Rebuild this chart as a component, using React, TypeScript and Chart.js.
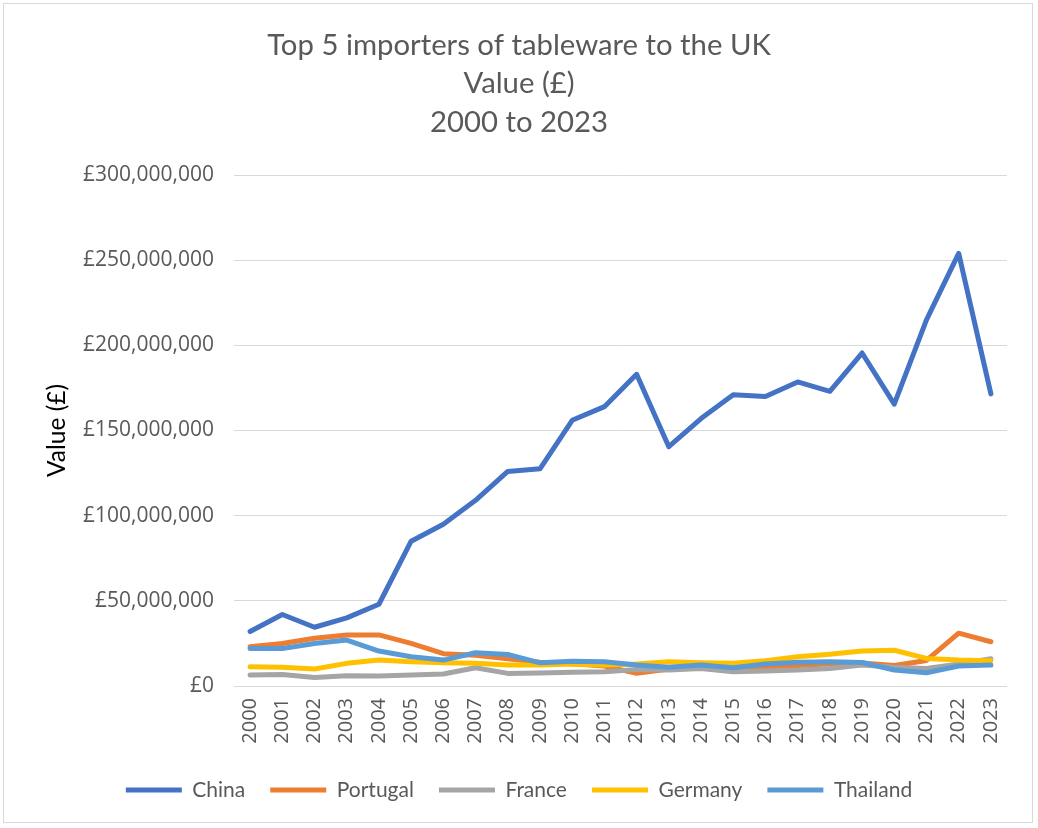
import React, { useEffect, useRef } from "react";
import { Chart, registerables } from "chart.js";

Chart.register(...registerables);

const years = [
  "2000", "2001", "2002", "2003", "2004", "2005", "2006", "2007", "2008", "2009", "2010", "2011",
  "2012", "2013", "2014", "2015", "2016", "2017", "2018", "2019", "2020", "2021", "2022", "2023",
];

// values in £ millions
const china = [32, 42, 34.5, 40, 48, 85, 95, 109, 126, 127.5, 156, 164, 183, 140.5, 157, 171, 170, 178.5, 173, 195.5, 165.5, 215, 254, 171.5];
const portugal = [23, 25, 28, 30, 30, 25, 19, 18, 16, 14, 13, 11.7, 7.5, 10, 11, 10.5, 11, 12, 13, 13.5, 12, 15, 31, 26];
const france = [6.4, 6.8, 5, 6, 5.8, 6.4, 7, 10.7, 7.4, 7.6, 8, 8.4, 9.7, 9.4, 10.3, 8.4, 8.8, 9.4, 10.3, 12.3, 11, 10.3, 13, 16];
const germany = [11.3, 11, 10, 13.3, 15.2, 14.2, 13.6, 13.3, 12.3, 12.3, 12.9, 12.3, 12.9, 14.2, 13.6, 13.3, 14.8, 17.2, 18.7, 20.5, 21, 16.2, 15.2, 14.8];
const thailand = [22, 22, 25, 27, 20.5, 17.2, 15.2, 19.5, 18.5, 13.6, 14.6, 14.2, 12.3, 11, 12.3, 10.7, 12.9, 14, 14.2, 13.8, 9.4, 7.8, 11.7, 12.3];

const seriesNames = ["China", "Portugal", "France", "Germany", "Thailand"];
const seriesValues = [china, portugal, france, germany, thailand];
const seriesColors = ["#4472C4", "#ED7D31", "#A5A5A5", "#FFC000", "#5B9BD5"];

const titleLines = ["Top 5 importers of tableware to the UK", "Value (£)", "2000 to 2023"];
const yAxisTitle = "Value (£)";
const yMax = 300000000;
const yStep = 50000000;

export default function App() {
  const ref = useRef<HTMLCanvasElement | null>(null);

  useEffect(() => {
    if (!ref.current) return;
    const chart = new Chart(ref.current, {
      type: "line",
      data: {
        labels: years,
        datasets: seriesNames.map((name, i) => ({
          label: name,
          data: seriesValues[i].map((v) => v * 1000000),
          borderColor: seriesColors[i],
          backgroundColor: seriesColors[i],
          borderWidth: 5,
          borderCapStyle: "round" as const,
          borderJoinStyle: "round" as const,
          pointRadius: 0,
          pointHoverRadius: 0,
          tension: 0,
          order: seriesNames.length - 1 - i,
        })),
      },
      options: {
        responsive: false,
        animation: false,
        layout: { padding: { left: 31, right: 31, top: 0, bottom: 17.5 } },
        plugins: {
          tooltip: { enabled: false },
          title: {
            display: true,
            text: titleLines,
            color: "#595959",
            font: { family: "Lato", size: 29.3, weight: "normal", lineHeight: 1.32 },
            padding: { top: 26, bottom: 33 },
          },
          legend: {
            position: "bottom",
            labels: {
              usePointStyle: true,
              pointStyle: "line",
              pointStyleWidth: 56,
              color: "#595959",
              font: { family: "Lato", size: 21 },
              padding: 25,
              sort: (a: any, b: any) => a.datasetIndex - b.datasetIndex,
            },
          },
        },
        scales: {
          x: {
            offset: true,
            grid: { display: false, drawTicks: false },
            border: { display: false },
            ticks: {
              color: "#595959",
              font: { family: "Open Sans", size: 20 },
              maxRotation: 90,
              minRotation: 90,
              padding: 12,
              autoSkip: false,
            },
            afterFit: (scale: any) => {
              scale.height = 68.5;
            },
          },
          y: {
            min: 0,
            max: yMax,
            grid: { color: "#D9D9D9", lineWidth: 1, drawTicks: false },
            border: { display: false },
            ticks: {
              stepSize: yStep,
              color: "#595959",
              font: { family: "Open Sans", size: 21 },
              padding: 20,
              callback: (v: any) => "£" + Number(v).toLocaleString("en-GB"),
            },
            title: {
              display: true,
              text: yAxisTitle,
              color: "#000000",
              font: { family: "Lato", size: 24.5 },
              padding: { top: 11, bottom: 0 },
            },
            afterFit: (scale: any) => {
              scale.width = 203;
            },
          },
        },
      },
    });
    return () => chart.destroy();
  }, []);

  return (
    <div style={{ position: "fixed", left: 0, top: 0, width: 1038, height: 828, background: "#fff" }}>
      <div
        style={{
          position: "absolute",
          left: 3,
          top: 3,
          width: 1030,
          height: 820,
          border: "1px solid #D9D9D9",
          boxSizing: "border-box",
        }}
      />
      <canvas ref={ref} width={1038} height={828} style={{ position: "absolute", left: 0, top: 0 }} />
    </div>
  );
}
